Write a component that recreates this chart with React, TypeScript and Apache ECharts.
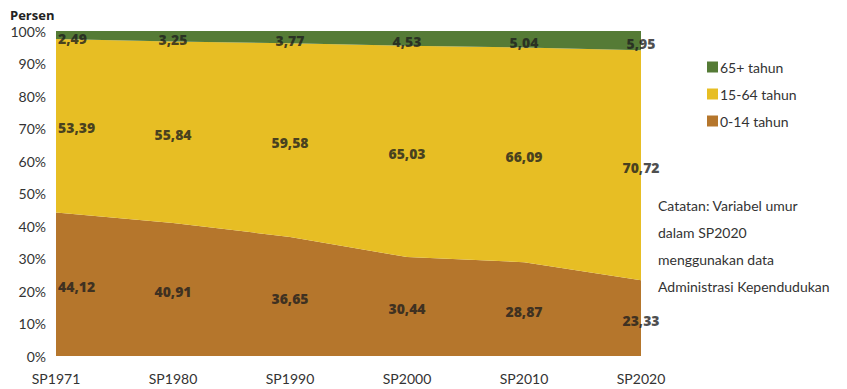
import React, { useEffect, useRef } from "react";
import * as echarts from "echarts";

const categories = ["SP1971", "SP1980", "SP1990", "SP2000", "SP2010", "SP2020"];
const age0to14 = [44.12, 40.91, 36.65, 30.44, 28.87, 23.33];
const age15to64 = [53.39, 55.84, 59.58, 65.03, 66.09, 70.72];
const age65plus = [2.49, 3.25, 3.77, 4.53, 5.04, 5.95];
const seriesNames = ["0-14 tahun", "15-64 tahun", "65+ tahun"];
const colors = ["#b5762c", "#e7be24", "#557b36"];
const noteLines = [
  "Catatan: Variabel umur",
  "dalam SP2020",
  "menggunakan data",
  "Administrasi Kependudukan",
];

const FONT = "Lato, 'Noto Sans', sans-serif";
const BOLD_FONT = "'Open Sans', 'Noto Sans', sans-serif";

export default function App() {
  const ref = useRef<HTMLDivElement>(null);
  useEffect(() => {
    if (!ref.current) return;
    const chart = echarts.init(ref.current, undefined, { renderer: "svg" });
    const bands = [age0to14, age15to64, age65plus];
    const labelSeries = bands.map((vals, si) => {
      const data = vals.map((v, i) => {
        let base = 0;
        for (let k = 0; k < si; k++) base += bands[k][i];
        const mid = base + v / 2;
        const item: any = { value: [i, mid], raw: v };
        const dy = si === 2 ? 3 : 2;
        item.label = i === 0 ? { align: "left", offset: [2, dy] } : { offset: [0, dy] };
        return item;
      });
      return {
        type: "scatter",
        symbolSize: 0,
        silent: true,
        z: 10,
        data,
        label: {
          show: true,
          position: "inside",
          fontFamily: BOLD_FONT,
          fontWeight: 800,
          fontSize: 14,
          color: "#1e1e1e",
          formatter: (p: any) => p.data.raw.toFixed(2).replace(".", ","),
        },
      };
    });
    chart.setOption({
      animation: false,
      textStyle: { fontFamily: FONT },
      grid: { left: 56, right: 206, top: 31, bottom: 33 },
      legend: {
        data: [seriesNames[2], seriesNames[1], seriesNames[0]],
        orient: "vertical",
        left: 702,
        top: 55,
        itemWidth: 11,
        itemHeight: 11,
        itemGap: 13,
        icon: "rect",
        textStyle: { fontFamily: FONT, fontSize: 14, color: "#333", padding: [0, 0, 0, -3] },
      },
      xAxis: {
        type: "category",
        data: categories,
        boundaryGap: false,
        axisLine: { show: false },
        axisTick: { show: false },
        axisLabel: { fontSize: 14, color: "#333", margin: 15 },
      },
      yAxis: {
        type: "value",
        min: 0,
        max: 100,
        interval: 10,
        splitLine: { show: false },
        axisLine: { show: false },
        axisTick: { show: false },
        axisLabel: { formatter: "{value}%", fontSize: 14, color: "#333", margin: 10 },
      },
      graphic: [
        {
          type: "text",
          left: 10,
          top: 8,
          style: { text: "Persen", font: `bold 13px ${BOLD_FONT}`, fill: "#222" },
        },
        ...noteLines.map((t, i) => ({
          type: "text",
          left: 658,
          top: 198 + i * 27,
          style: { text: t, font: `14px ${FONT}`, fill: "#333" },
        })),
      ],
      series: [
        ...bands.map((vals, si) => ({
          name: seriesNames[si],
          type: "line",
          stack: "total",
          data: vals,
          symbol: "none",
          lineStyle: { width: 0 },
          itemStyle: { color: colors[si] },
          areaStyle: { color: colors[si], opacity: 1 },
        })),
        ...labelSeries,
      ],
    });
    return () => chart.dispose();
  }, []);
  return <div ref={ref} style={{ width: 847, height: 389, marginLeft: -8, marginTop: -8 }} />;
}
